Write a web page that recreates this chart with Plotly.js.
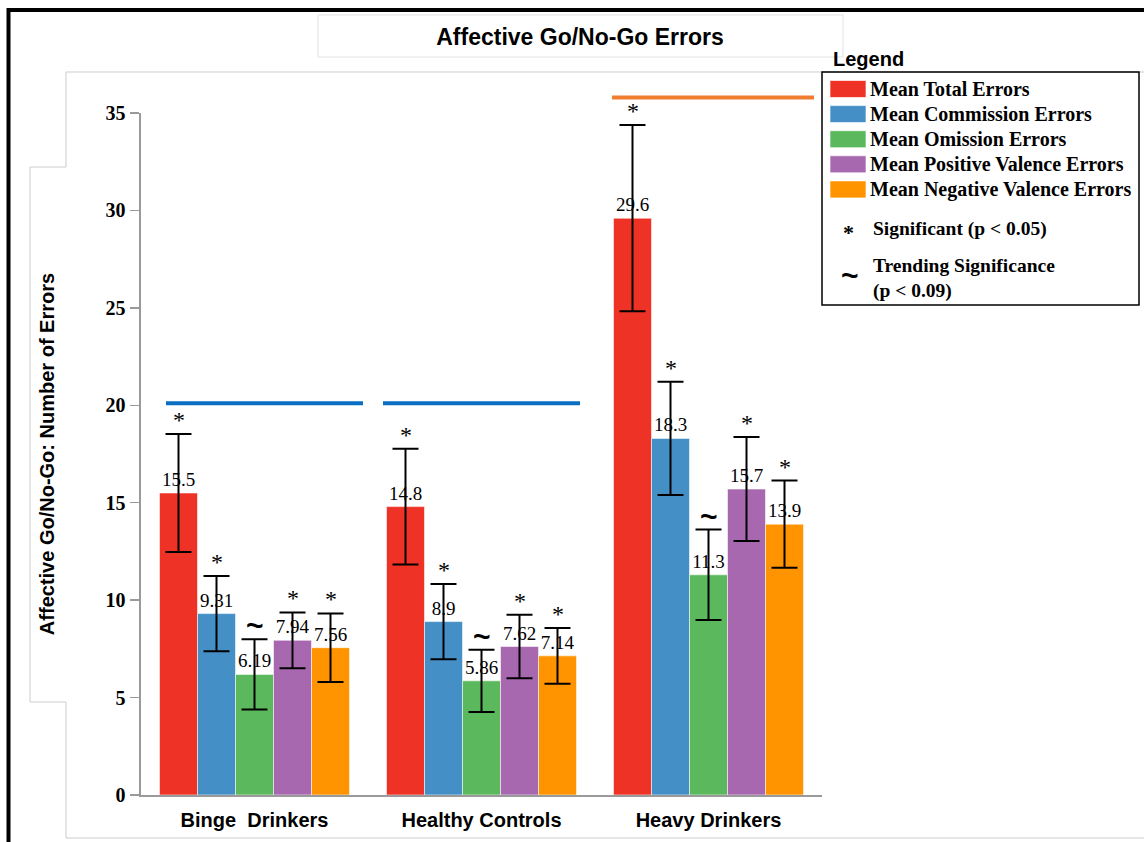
<!DOCTYPE html>
<html><head><meta charset="utf-8">
<script src="https://cdn.plot.ly/plotly-3.0.1.min.js"></script>
<style>html,body{margin:0;padding:0;background:#fff}#chart{width:1144px;height:842px}</style>
</head><body><div id="chart"></div>
<script>
// ---- data ----
const groups = ['Binge \u00a0Drinkers', 'Healthy Controls', 'Heavy Drinkers'];
const seriesNames = ['Mean Total Errors', 'Mean Commission Errors', 'Mean Omission Errors', 'Mean Positive Valence Errors', 'Mean Negative Valence Errors'];
const seriesColors = ['#ee3326', '#4490c6', '#5cb85c', '#a868b0', '#ff9400'];
const totalErrors      = [15.5, 14.8, 29.6];
const commissionErrors = [9.31, 8.9, 18.3];
const omissionErrors   = [6.19, 5.86, 11.3];
const positiveErrors   = [7.94, 7.62, 15.7];
const negativeErrors   = [7.56, 7.14, 13.9];
const totalSE      = [3.03, 2.97, 4.78];
const commissionSE = [1.93, 1.93, 2.91];
const omissionSE   = [1.80, 1.60, 2.32];
const positiveSE   = [1.43, 1.63, 2.67];
const negativeSE   = [1.76, 1.43, 2.24];
const sigMarks = ['*', '*', '~', '*', '*'];   // per series, same for each group
const yTickVals = [0, 5, 10, 15, 20, 25, 30, 35];
const bracketLevels = [20.1, 20.1, 35.8];
const bracketColors = ['#0a6fc2', '#0a6fc2', '#ef7d30'];

const values = [totalErrors, commissionErrors, omissionErrors, positiveErrors, negativeErrors];
const errors = [totalSE, commissionSE, omissionSE, positiveSE, negativeSE];

// ---- geometry ----
const W = 1144, H = 842, L = 141, R = 822, T = 113, B = 795;
const yMax = 35;
const BARGAP = 0.163;
const nS = values.length;
const barW = (1 - BARGAP) / nS;
const offs = i => -(1 - BARGAP) / 2 + (i + 0.5) * barW;
const px = x => (x - L) / (R - L);
const py = y => (B - y) / (B - T);
const pathOf = pts => 'M' + pts.map(p => px(p[0]).toFixed(5) + ',' + py(p[1]).toFixed(5)).join(' L');

const gx = groups.map((g, i) => i);

const traces = values.map((vals, i) => ({
  type: 'bar',
  name: seriesNames[i],
  x: gx,
  y: vals,
  marker: {color: seriesColors[i], line: {color: 'rgba(255,255,255,0.55)', width: 1}},
  text: vals.map(v => String(v)),
  textposition: 'outside',
  constraintext: 'none',
  cliponaxis: false,
  textfont: {family: 'Liberation Serif', size: 19, color: '#000'},
  error_y: {type: 'data', array: errors[i], visible: true, color: '#000', thickness: 2, width: 13},
  showlegend: false,
  hoverinfo: 'skip'
}));

const annotations = [];
// significance marks above the error bars
values.forEach((vals, i) => {
  vals.forEach((v, g) => {
    const tilde = sigMarks[i] === '~';
    annotations.push({
      xref: 'x', yref: 'y', x: g + offs(i), y: v + errors[i][g],
      text: tilde ? '<b>~</b>' : '*',
      showarrow: false, xanchor: 'center', yanchor: 'bottom',
      yshift: tilde ? -5 : -1,
      font: {family: tilde ? 'Liberation Sans' : 'Liberation Serif', size: tilde ? 30 : 24, color: '#000'}
    });
  });
});

// custom legend
annotations.push({xref: 'paper', yref: 'paper', x: px(831), y: py(59), xanchor: 'left', yanchor: 'middle',
  text: '<b>Legend</b>', showarrow: false, font: {family: 'Liberation Sans', size: 20, color: '#000'}});
const shapes = [];
seriesNames.forEach((n, i) => {
  const cy = 89 + 25.1 * i;
  shapes.push({type: 'rect', xref: 'paper', yref: 'paper', x0: px(830), x1: px(866), y0: py(cy + 8.5), y1: py(cy - 8.5),
    fillcolor: seriesColors[i], line: {width: 0.8, color: 'rgba(255,255,255,0.8)'}});
  annotations.push({xref: 'paper', yref: 'paper', x: px(868), y: py(cy), xanchor: 'left', yanchor: 'middle',
    text: '<b>' + n + '</b>', showarrow: false, font: {family: 'Liberation Serif', size: 20, color: '#000'}});
});
annotations.push({xref: 'paper', yref: 'paper', x: px(848), y: py(233), xanchor: 'center', yanchor: 'middle',
  text: '<b>*</b>', showarrow: false, font: {family: 'Liberation Serif', size: 22, color: '#000'}});
annotations.push({xref: 'paper', yref: 'paper', x: px(871), y: py(229), xanchor: 'left', yanchor: 'middle',
  text: '<b>Significant (p < 0.05)</b>', showarrow: false, font: {family: 'Liberation Serif', size: 19.5, color: '#000'}});
annotations.push({xref: 'paper', yref: 'paper', x: px(850), y: py(275), xanchor: 'center', yanchor: 'middle',
  text: '<b>~</b>', showarrow: false, font: {family: 'Liberation Sans', size: 30, color: '#000'}});
annotations.push({xref: 'paper', yref: 'paper', x: px(871), y: py(278), xanchor: 'left', yanchor: 'middle', align: 'left',
  text: '<b>Trending Significance<br>(p < 0.09)</b>', showarrow: false, font: {family: 'Liberation Serif', size: 19.5, color: '#000'}});

// legend box
shapes.push({type: 'rect', xref: 'paper', yref: 'paper', x0: px(822), x1: px(1139), y0: py(305), y1: py(72),
  line: {color: '#000', width: 1.5}, fillcolor: 'rgba(0,0,0,0)'});

// significance brackets
const bracketFrom = [-0.39, 0.566, 1.575];
const bracketTo = [0.478, 1.434, 2.465];
bracketLevels.forEach((lv, i) => {
  shapes.push({type: 'line', xref: 'x', yref: 'paper', x0: bracketFrom[i], x1: bracketTo[i], y0: lv / yMax, y1: lv / yMax,
    line: {color: bracketColors[i], width: 4}});
});

// panel outlines
shapes.push({type: 'path', xref: 'paper', yref: 'paper', layer: 'below',
  path: pathOf([[1150, 72], [66, 72], [66, 167], [30, 167], [30, 702], [66, 702], [66, 838], [1150, 838]]),
  line: {color: '#cccccc', width: 1}});
shapes.push({type: 'path', xref: 'paper', yref: 'paper', layer: 'below',
  path: pathOf([[318, 15], [843, 15], [843, 57], [318, 57], [318, 15]]),
  line: {color: '#e2e2e2', width: 1}});
// outer black frame
shapes.push({type: 'path', xref: 'paper', yref: 'paper',
  path: pathOf([[8.5, 850], [8.5, 10], [1150, 10]]),
  line: {color: '#000', width: 4}});

const layout = {
  width: W, height: H, autosize: false,
  margin: {l: L, r: W - R, t: T, b: H - B, pad: 0},
  paper_bgcolor: '#fff', plot_bgcolor: 'rgba(0,0,0,0)',
  barmode: 'group', bargap: BARGAP, bargroupgap: 0,
  hovermode: false,
  title: {text: 'Affective Go/No-Go Errors', xref: 'container', yref: 'container', x: 580 / W, xanchor: 'center',
    y: 1 - 37 / H, yanchor: 'middle', font: {family: 'Liberation Sans', size: 23, weight: 700, color: '#000'}},
  xaxis: {
    type: 'linear', range: [-0.5, 2.5], tickvals: gx, ticktext: groups, ticks: '',
    showline: true, linecolor: '#9a9a9a', linewidth: 2, showgrid: false, zeroline: false,
    ticklabelstandoff: 6,
    tickfont: {family: 'Liberation Sans', size: 20, weight: 700, color: '#000'}
  },
  yaxis: {
    range: [0, yMax], tickvals: yTickVals, ticks: 'outside', ticklen: 9, tickwidth: 1.5, tickcolor: '#9a9a9a',
    showline: true, linecolor: '#9a9a9a', linewidth: 2.5, showgrid: false, zeroline: false,
    tickfont: {family: 'Liberation Serif', size: 20, weight: 700, color: '#000'},
    title: {text: 'Affective Go/No-Go: Number of Errors', standoff: 46,
      font: {family: 'Liberation Sans', size: 20, weight: 700, color: '#000'}}
  },
  shapes: shapes,
  annotations: annotations
};

Plotly.newPlot('chart', traces, layout, {displayModeBar: false, staticPlot: true});
</script>
</body></html>
